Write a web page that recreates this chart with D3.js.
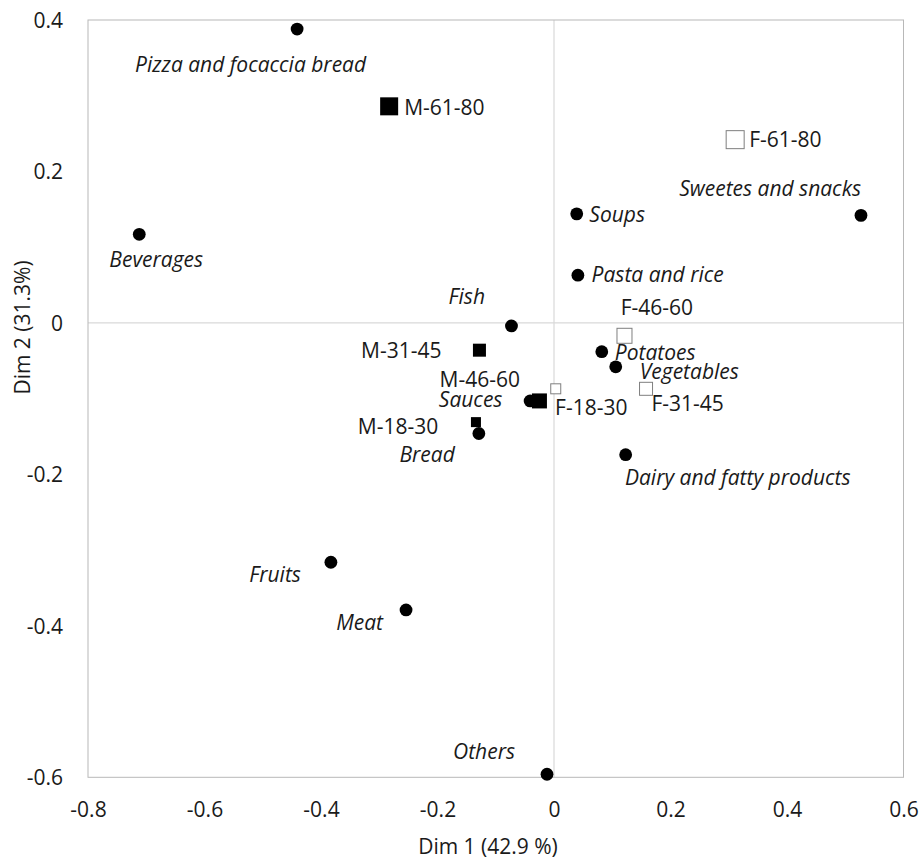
<!DOCTYPE html>
<html>
<head>
<meta charset="utf-8">
<script src="https://cdn.jsdelivr.net/npm/d3@7"></script>
<style>
  html, body { margin: 0; padding: 0; background: #fff; }
  svg { display: block; }
  text { font-family: "Open Sans", "Noto Sans", sans-serif; fill: #1a1a1a; }
</style>
</head>
<body>
<svg id="chart" width="921" height="860"></svg>
<script>
// ---------- DATA ----------
const foodNames = ["Pizza and focaccia bread", "Beverages", "Soups", "Pasta and rice",
  "Sweetes and snacks", "Fish", "Potatoes", "Vegetables", "Sauces", "Bread",
  "Dairy and fatty products", "Fruits", "Meat", "Others"];
const foodDim1 = [-0.441, -0.712, 0.039, 0.041, 0.527, -0.073, 0.082, 0.106, -0.041, -0.129, 0.123, -0.383, -0.254, -0.012];
const foodDim2 = [0.388, 0.117, 0.144, 0.063, 0.142, -0.004, -0.038, -0.058, -0.103, -0.146, -0.174, -0.316, -0.379, -0.596];

const groupNames = ["M-61-80", "M-31-45", "M-46-60", "M-18-30", "F-61-80", "F-46-60", "F-31-45", "F-18-30"];
const groupDim1 = [-0.283, -0.128, -0.025, -0.134, 0.311, 0.121, 0.158, 0.003];
const groupDim2 = [0.286, -0.036, -0.103, -0.131, 0.242, -0.017, -0.087, -0.087];

const xTicks = [-0.8, -0.6, -0.4, -0.2, 0, 0.2, 0.4, 0.6];
const yTicks = [0.4, 0.2, 0, -0.2, -0.4, -0.6];
const xTitle = "Dim 1 (42.9 %)";
const yTitle = "Dim 2 (31.3%)";

// ---------- STYLE / LAYOUT ----------
const FS = 21;
const squareSizeByAge = { "61-80": 18, "46-60": 15, "31-45": 13, "18-30": 10 };
const labelStyle = {
  "Pizza and focaccia bread": [-46.5, 42.5, "middle"],
  "Beverages": [17, 32.5, "middle"],
  "Soups": [12.6, 7.7, "start"],
  "Pasta and rice": [13.7, 6.7, "start"],
  "Sweetes and snacks": [0, -19, "end"],
  "Fish": [-44.7, -21.7, "middle"],
  "Potatoes": [13, 8.7, "start"],
  "Vegetables": [24, 12.6, "start"],
  "Sauces": [-27.7, 6, "end"],
  "Bread": [-24, 28.4, "end"],
  "Dairy and fatty products": [-0.7, 30.7, "start"],
  "Fruits": [-30, 19.7, "end"],
  "Meat": [-23, 20, "end"],
  "Others": [-32, -15.7, "end"],
  "M-61-80": [15, 8.5, "start"],
  "M-31-45": [-38, 7.4, "end"],
  "M-46-60": [-19.5, -14, "end"],
  "M-18-30": [-37.7, 11.5, "end"],
  "F-61-80": [14, 7.4, "start"],
  "F-46-60": [-3.8, -20.8, "start"],
  "F-31-45": [5.4, 21.8, "start"],
  "F-18-30": [-0.7, 26.3, "start"]
};

const plot = { left: 88, right: 903.5, top: 20, bottom: 777.3 };
const svg = d3.select("#chart");

const x = d3.scaleLinear().domain([-0.8, 0.6]).range([plot.left, plot.right]);
const y = d3.scaleLinear().domain([-0.6, 0.4]).range([plot.bottom, plot.top]);

// zero lines
svg.append("line")
  .attr("x1", x(0)).attr("x2", x(0)).attr("y1", plot.top).attr("y2", plot.bottom)
  .attr("stroke", "#d9d9d9").attr("stroke-width", 1.2);
svg.append("line")
  .attr("x1", plot.left).attr("x2", plot.right).attr("y1", y(0)).attr("y2", y(0))
  .attr("stroke", "#d9d9d9").attr("stroke-width", 1.2);

// plot frame
svg.append("rect")
  .attr("x", plot.left).attr("y", plot.top)
  .attr("width", plot.right - plot.left).attr("height", plot.bottom - plot.top)
  .attr("fill", "none").attr("stroke", "#b8b8b8").attr("stroke-width", 1);

// axes (tick labels only)
const fmt = d => d === 0 ? "0" : d3.format(".1f")(d).replace("−", "-");
const xAxis = d3.axisBottom(x).tickValues(xTicks).tickFormat(fmt).tickSize(0).tickPadding(0);
const gx = svg.append("g").attr("transform", `translate(0,${plot.bottom + 25})`).call(xAxis);
gx.select(".domain").remove();
gx.selectAll("text").attr("font-size", FS).attr("fill", "#1a1a1a")
  .attr("font-family", "'Open Sans', sans-serif").attr("dy", "0.71em");

const yAxis = d3.axisLeft(y).tickValues(yTicks).tickFormat(fmt).tickSize(0).tickPadding(0);
const gy = svg.append("g").attr("transform", `translate(${plot.left - 25},0)`).call(yAxis);
gy.select(".domain").remove();
gy.selectAll("text").attr("font-size", FS).attr("fill", "#1a1a1a")
  .attr("font-family", "'Open Sans', sans-serif").attr("dy", "0.35em");

// axis titles
svg.append("text").attr("x", 488).attr("y", 853.5).attr("text-anchor", "middle")
  .attr("font-size", FS).text(xTitle);
svg.append("text").attr("transform", "translate(30,327.5) rotate(-90)")
  .attr("text-anchor", "middle").attr("font-size", FS).text(yTitle);

// data tables
const foods = foodNames.map((n, i) => ({ name: n, d1: foodDim1[i], d2: foodDim2[i] }));
const groups = groupNames.map((n, i) => ({ name: n, d1: groupDim1[i], d2: groupDim2[i],
  male: n.startsWith("M"), age: n.slice(2) }));

// food circles
svg.append("g").selectAll("circle").data(foods).join("circle")
  .attr("cx", d => x(d.d1)).attr("cy", d => y(d.d2)).attr("r", 6.4).attr("fill", "#000");

// group squares
svg.append("g").selectAll("rect").data(groups).join("rect")
  .attr("x", d => x(d.d1) - squareSizeByAge[d.age] / 2)
  .attr("y", d => y(d.d2) - squareSizeByAge[d.age] / 2)
  .attr("width", d => squareSizeByAge[d.age])
  .attr("height", d => squareSizeByAge[d.age])
  .attr("fill", d => d.male ? "#000" : "#fff")
  .attr("stroke", d => d.male ? "#000" : "#7f7f7f")
  .attr("stroke-width", d => d.male ? 0 : 1);

// labels
svg.append("g").selectAll("text").data(foods).join("text")
  .attr("x", d => x(d.d1) + labelStyle[d.name][0])
  .attr("y", d => y(d.d2) + labelStyle[d.name][1])
  .attr("text-anchor", d => labelStyle[d.name][2])
  .attr("font-size", FS).attr("font-style", "italic")
  .text(d => d.name);

svg.append("g").selectAll("text").data(groups).join("text")
  .attr("x", d => x(d.d1) + labelStyle[d.name][0])
  .attr("y", d => y(d.d2) + labelStyle[d.name][1])
  .attr("text-anchor", d => labelStyle[d.name][2])
  .attr("font-size", FS)
  .text(d => d.name);
</script>
</body>
</html>
